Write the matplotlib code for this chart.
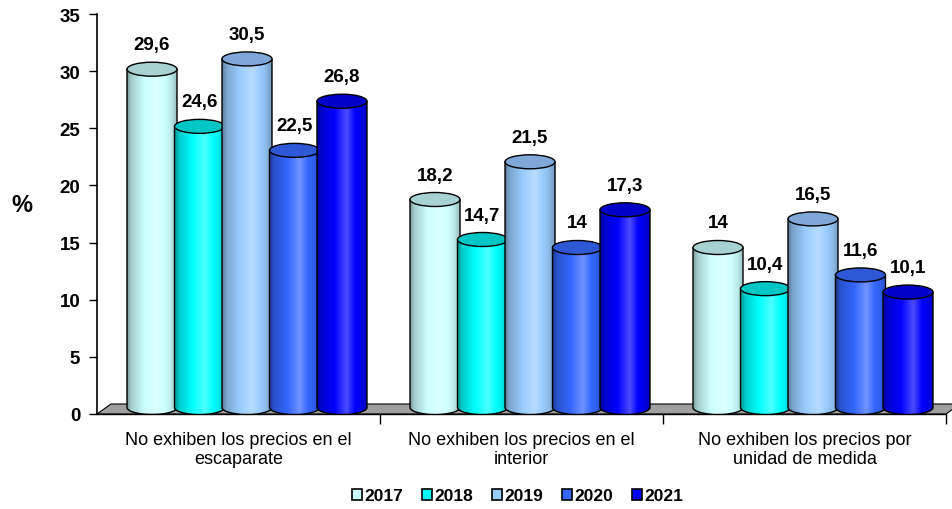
import numpy as np
import matplotlib
matplotlib.use("Agg")
import matplotlib.pyplot as plt
from matplotlib.patches import Ellipse, Polygon, Patch

plt.rcParams['font.family'] = ['Liberation Sans', 'DejaVu Sans']

# data
categories = ["No exhiben los precios en el\nescaparate",
              "No exhiben los precios en el\ninterior",
              "No exhiben los precios por\nunidad de medida"]
years = ["2017", "2018", "2019", "2020", "2021"]
v2017 = [29.6, 18.2, 14]
v2018 = [24.6, 14.7, 10.4]
v2019 = [30.5, 21.5, 16.5]
v2020 = [22.5, 14, 11.6]
v2021 = [26.8, 17.3, 10.1]
series = [v2017, v2018, v2019, v2020, v2021]

face = ['#CCFFFF', '#00FFFF', '#99CCFF', '#3366FF', '#0000FF']
top_face = ['#A8D2D2', '#00C6C6', '#7FA8D8', '#2E58D6', '#0000C8']

fig = plt.figure(figsize=(9.52, 5.10), dpi=100)
ax = fig.add_axes([97/952, 95/510, 849/952, 400/510])

# pixel -> data helpers
px_x = 3 / 849.0
px_y = 35 / 400.0

# floor
fdx, fdy = 14 * px_x, 10 * px_y
floor = Polygon([(0, 0), (3, 0), (3 + fdx, fdy), (fdx, fdy)], closed=True,
                facecolor='#a0a0a0', edgecolor='black', lw=0.8, zorder=1, clip_on=False)
ax.add_patch(floor)

w = 50 * px_x
step = 47.5 * px_x
shift = 8.5 * px_x
eh = 14 * px_y
yoff = 6.5 * px_y


def shade_img(col):
    c = np.array(matplotlib.colors.to_rgb(col))
    t = np.linspace(0, 1, 80)
    f = np.interp(t, [0, 0.08, 0.35, 0.6, 0.88, 1], [0.6, 0.8, 1.0, 1.12, 0.92, 0.75])
    out = np.zeros((1, len(t), 3))
    for i, fi in enumerate(f):
        if fi <= 1:
            out[0, i] = c * fi
        else:
            out[0, i] = c + (1 - c) * (fi - 1) * 2.5
    return np.clip(out, 0, 1)


z = 2
for g in range(3):
    gc = g + 0.5 + shift
    for k in range(5):
        v = series[k][g]
        xc = gc + (k - 2) * step
        xl, xr = xc - w / 2, xc + w / 2
        yb = yoff
        yt = v + yoff
        th = np.linspace(np.pi, 2 * np.pi, 40)
        arc = np.column_stack([xc + w / 2 * np.cos(th), yb + eh / 2 * np.sin(th)])
        pts = np.vstack([[xl, yt], arc, [xr, yt]])
        body = Polygon(pts, closed=True, facecolor='none', edgecolor='black', lw=1.0, zorder=z + 0.2)
        ax.add_patch(body)
        img = ax.imshow(shade_img(face[k]), extent=[xl, xr, yb - eh / 2, yt], aspect='auto',
                        zorder=z, interpolation='bilinear')
        img.set_clip_path(body)
        top = Ellipse((xc, yt), w, eh, facecolor=top_face[k], edgecolor='black', lw=1.0, zorder=z + 0.3)
        ax.add_patch(top)
        lab = ('%g' % v).replace('.', ',')
        ax.text(xc, v + 31 * px_y, lab, ha='center', va='center', fontsize=13.5,
                fontweight='bold', zorder=20)
        z += 1

ax.set_xlim(0, 3)
ax.set_ylim(0, 35)
ax.set_yticks(range(0, 36, 5))
ax.set_yticklabels([str(t) for t in range(0, 36, 5)], fontsize=13.5, fontweight='bold')
ax.set_xticks([1, 2, 3])
ax.set_xticklabels([])
ax.set_xticks([0.5, 1.5, 2.5], minor=True)
ax.set_xticklabels(categories, minor=True, fontsize=13, linespacing=1.15)
ax.tick_params(axis='x', which='minor', length=0, pad=12)
ax.tick_params(axis='x', which='major', length=7, width=1, direction='out')
ax.tick_params(axis='y', length=6, width=1, direction='out', pad=6)
ax.spines['top'].set_visible(False)
ax.spines['right'].set_visible(False)
ax.spines['left'].set_linewidth(1.2)
ax.spines['bottom'].set_linewidth(1.0)
ax.spines['left'].set_zorder(30)
ax.patch.set_visible(False)

fig.text(22 / 952, 1 - 205 / 510, '%', fontsize=17, fontweight='bold', ha='center', va='center')

handles = [Patch(facecolor=face[k], edgecolor='black', lw=1.2) for k in range(5)]
fig.legend(handles, years, loc='center', bbox_to_anchor=(518 / 952, 1 - 497 / 510), ncol=5,
           frameon=False, prop={'weight': 'bold', 'size': 12.5}, handlelength=0.55,
           handleheight=0.55, handletextpad=0.15, columnspacing=1.1)

fig.savefig('out.png', dpi=100)
